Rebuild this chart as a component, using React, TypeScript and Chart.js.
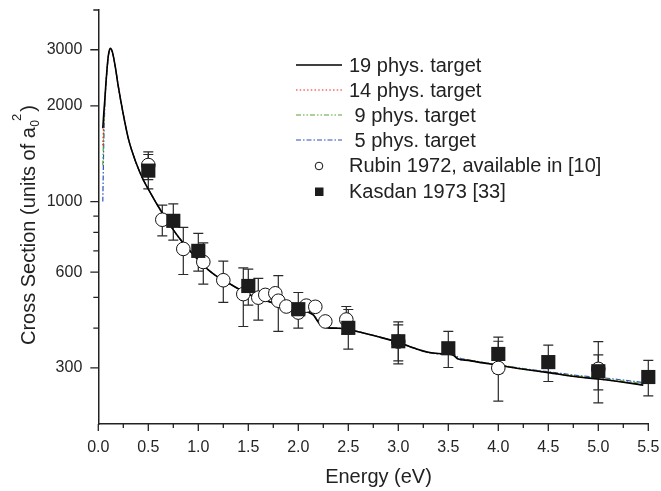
import React, { useEffect, useRef } from 'react';
import { Chart, registerables } from 'chart.js';

Chart.register(...registerables);

// ---------- data ----------
const energies = [
  0.045, 0.055, 0.065, 0.075, 0.085, 0.1, 0.12, 0.14, 0.17, 0.2,
  0.25, 0.3, 0.35, 0.4, 0.45, 0.5, 0.6, 0.7, 0.8, 0.9,
  1.0, 1.1, 1.2, 1.3, 1.4, 1.5, 1.6, 1.7, 1.8, 1.9,
  2.0, 2.1, 2.15, 2.2, 2.25, 2.3, 2.4, 2.5, 2.6, 2.8,
  3.0, 3.2, 3.3, 3.4, 3.5, 3.55, 3.6, 3.7, 3.8, 4.0,
  4.2, 4.5, 4.8, 5.0, 5.2, 5.45,
];
const sigma19 = [
  1700, 1900, 2090, 2330, 2560, 2870, 3030, 2960, 2650, 2300,
  1880, 1580, 1400, 1270, 1170, 1095, 965, 860, 775, 710,
  655, 610, 578, 555, 532, 512, 497, 485, 475, 465,
  456, 449, 440, 418, 405, 401, 400, 396, 390, 376,
  361, 343, 336, 333, 332, 329, 320, 317, 313, 306,
  299, 290, 281, 277, 272, 265,
];
const sigma14 = [
  1500, 1820, 2060, 2310, 2550, 2860, 3020, 2955, 2650, 2300,
  1880, 1580, 1400, 1270, 1170, 1095, 965, 860, 775, 710,
  655, 610, 578, 555, 532, 512, 497, 485, 475, 465,
  456, 449, 441, 419, 405, 401, 400, 396, 390, 376,
  361, 343, 336, 333, 332, 330, 320, 317, 313, 306,
  299, 290, 281, 277, 272, 265,
];
const sigma9 = [
  1300, 1700, 2030, 2300, 2540, 2850, 3015, 2950, 2650, 2300,
  1880, 1580, 1400, 1270, 1170, 1095, 965, 860, 775, 710,
  655, 610, 578, 555, 532, 512, 497, 485, 475, 465,
  456, 449, 442, 420, 406, 401, 400, 396, 390, 376,
  361, 343, 336, 333, 332, 331, 321, 318, 314, 307,
  300, 291, 283, 279, 274, 268,
];
const sigma5 = [
  1000, 1550, 1980, 2280, 2530, 2840, 3010, 2945, 2650, 2300,
  1880, 1580, 1400, 1270, 1170, 1095, 965, 860, 775, 710,
  655, 610, 578, 555, 532, 512, 497, 485, 475, 465,
  456, 449, 442, 421, 406, 401, 400, 396, 390, 376,
  361, 342, 335, 332, 331, 332, 324, 318, 314, 307,
  300, 292, 284, 280, 276, 270,
];

const rubinE = [0.5, 0.64, 0.85, 1.05, 1.25, 1.45, 1.6, 1.67, 1.77, 1.8, 1.88, 2.0, 2.08, 2.17, 2.27, 2.48, 3.0, 4.0, 5.0];
const rubinSigma = [1303, 877, 710, 646, 566, 512, 499, 509, 515, 488, 468, 448, 471, 467, 420, 426, 363, 300, 298];
const rubinErr = [130, 97, 120, 96, 84, 107, 75, 0, 0, 97, 0, 0, 0, 0, 0, 42, 47, 64, 65];

const kasdanE = [0.5, 0.75, 1.0, 1.5, 2.0, 2.5, 3.0, 3.5, 4.0, 4.5, 5.0, 5.5];
const kasdanSigma = [1251, 870, 700, 543, 459, 401, 364, 346, 332, 313, 293, 281];
const kasdanErr = [155, 113, 95, 70, 59, 57, 55, 45, 43, 41, 37, 36];

const xMajorTicks = [0, 0.5, 1, 1.5, 2, 2.5, 3, 3.5, 4, 4.5, 5, 5.5];
const xTickLabels = ['0.0', '0.5', '1.0', '1.5', '2.0', '2.5', '3.0', '3.5', '4.0', '4.5', '5.0', '5.5'];
const xMinorTicks = [0.25, 0.75, 1.25, 1.75, 2.25, 2.75, 3.25, 3.75, 4.25, 4.75, 5.25];
const yMajorTicks = [300, 600, 1000, 2000, 3000];
const yTickLabels = ['300', '600', '1000', '2000', '3000'];
const yMinorTicks = [400, 500, 700, 800, 900, 4000];

const legendLabels = ['19 phys. target', '14 phys. target', ' 9 phys. target', ' 5 phys. target', 'Rubin 1972, available in [10]', 'Kasdan 1973 [33]'];

// ---------- styles ----------
const FONT = "'Liberation Sans', Arial, Helvetica, sans-serif";
const INK = '#222222';
const C19 = '#000000';
const C14 = '#ff1a1a';
const C9 = '#55a532';
const C5 = '#2a4fc0';
const D14 = [1.5, 2.2];
const D9 = [5, 2, 1.5, 2, 1.5, 2];
const D5 = [5, 2, 1.5, 2];

const toXY = (xs: number[], ys: number[]) => xs.map((x, i) => ({ x, y: ys[i] }));

const errorBarsPlugin = {
  id: 'errorBars',
  beforeDatasetsDraw(chart: any) {
    const { ctx, scales } = chart;
    const x = scales.x;
    const y = scales.y;
    const sets: [number[], number[], number[]][] = [
      [rubinE, rubinSigma, rubinErr],
      [kasdanE, kasdanSigma, kasdanErr],
    ];
    ctx.save();
    ctx.strokeStyle = '#2a2a2a';
    ctx.lineWidth = 1.2;
    for (const [es, vs, errs] of sets) {
      es.forEach((e, i) => {
        if (!errs[i]) return;
        const px = x.getPixelForValue(e);
        const top = y.getPixelForValue(vs[i] + errs[i]);
        const bot = y.getPixelForValue(vs[i] - errs[i]);
        ctx.beginPath();
        ctx.moveTo(px, top);
        ctx.lineTo(px, bot);
        ctx.moveTo(px - 5, top);
        ctx.lineTo(px + 5, top);
        ctx.moveTo(px - 5, bot);
        ctx.lineTo(px + 5, bot);
        ctx.stroke();
      });
    }
    ctx.restore();
  },
};

const decorPlugin = {
  id: 'decor',
  afterDraw(chart: any) {
    const { ctx, scales, chartArea } = chart;
    const x = scales.x;
    const y = scales.y;
    ctx.save();
    // tick marks
    ctx.strokeStyle = INK;
    ctx.lineWidth = 1.3;
    ctx.beginPath();
    for (const v of xMajorTicks) {
      const px = x.getPixelForValue(v);
      ctx.moveTo(px, chartArea.bottom);
      ctx.lineTo(px, chartArea.bottom + 7);
    }
    for (const v of xMinorTicks) {
      const px = x.getPixelForValue(v);
      ctx.moveTo(px, chartArea.bottom);
      ctx.lineTo(px, chartArea.bottom + 4);
    }
    for (const v of yMajorTicks) {
      const py = y.getPixelForValue(v);
      ctx.moveTo(chartArea.left, py);
      ctx.lineTo(chartArea.left - 8, py);
    }
    for (const v of yMinorTicks) {
      const py = y.getPixelForValue(v);
      ctx.moveTo(chartArea.left, py);
      ctx.lineTo(chartArea.left - 5, py);
    }
    ctx.stroke();

    // axis titles
    ctx.fillStyle = INK;
    ctx.font = `20px ${FONT}`;
    ctx.textAlign = 'center';
    ctx.textBaseline = 'alphabetic';
    ctx.fillText('Energy (eV)', 378.5, 483);

    ctx.save();
    ctx.translate(35, 345);
    ctx.rotate(-Math.PI / 2);
    ctx.textAlign = 'left';
    const main = 'Cross Section (units of a';
    ctx.font = `20px ${FONT}`;
    ctx.fillText(main, 0, 0);
    const w = ctx.measureText(main).width;
    ctx.font = `12px ${FONT}`;
    ctx.fillText('0', w + 0.5, 4);
    const w0 = ctx.measureText('0').width;
    ctx.font = `13px ${FONT}`;
    ctx.fillText('2', w + w0 - 0.5, -14);
    const w2 = ctx.measureText('2').width;
    ctx.font = `20px ${FONT}`;
    ctx.fillText(')', w + w0 + w2 + 1.5, 0);
    ctx.restore();

    // legend
    const lineRows = [
      { y: 65, color: C19, dash: [] as number[], width: 1.5 },
      { y: 90, color: C14, dash: D14, width: 1.2 },
      { y: 115, color: C9, dash: D9, width: 1.2 },
      { y: 140, color: C5, dash: D5, width: 1.2 },
    ];
    lineRows.forEach((r) => {
      ctx.strokeStyle = r.color;
      ctx.lineWidth = r.width;
      ctx.setLineDash(r.dash);
      ctx.beginPath();
      ctx.moveTo(296, r.y);
      ctx.lineTo(342, r.y);
      ctx.stroke();
    });
    ctx.setLineDash([]);
    // marker samples
    ctx.beginPath();
    ctx.arc(319, 166, 3.8, 0, Math.PI * 2);
    ctx.fillStyle = '#ffffff';
    ctx.fill();
    ctx.strokeStyle = '#111111';
    ctx.lineWidth = 1;
    ctx.stroke();
    ctx.fillStyle = '#1c1c1c';
    ctx.fillRect(315, 187.5, 8.5, 8.5);

    ctx.fillStyle = INK;
    ctx.font = `20px ${FONT}`;
    ctx.textAlign = 'left';
    ctx.textBaseline = 'middle';
    const textRows = [66, 91, 116, 141, 166.5, 192];
    legendLabels.forEach((t, i) => {
      ctx.fillText(t, 349, textRows[i]);
    });
    ctx.restore();
  },
};

export default function App() {
  const ref = useRef<HTMLCanvasElement | null>(null);

  useEffect(() => {
    if (!ref.current) return;
    const lineDs = (label: string, ys: number[], color: string, dash: number[], width: number, order: number) => ({
      type: 'line' as const,
      label,
      data: toXY(energies, ys),
      borderColor: color,
      backgroundColor: color,
      borderWidth: width,
      borderDash: dash,
      pointRadius: 0,
      fill: false,
      cubicInterpolationMode: 'monotone' as const,
      order,
    });
    const chart = new Chart(ref.current, {
      type: 'scatter',
      data: {
        datasets: [
          {
            type: 'scatter',
            label: 'Kasdan 1973 [33]',
            data: toXY(kasdanE, kasdanSigma),
            pointStyle: 'rect',
            pointRadius: 10,
            backgroundColor: '#1c1c1c',
            borderColor: '#1c1c1c',
            borderWidth: 0,
            clip: false,
            order: 0,
          } as any,
          {
            type: 'scatter',
            label: 'Rubin 1972, available in [10]',
            data: toXY(rubinE, rubinSigma),
            pointStyle: 'circle',
            pointRadius: 6.8,
            backgroundColor: '#ffffff',
            borderColor: '#111111',
            borderWidth: 1,
            clip: false,
            order: 1,
          } as any,
          lineDs('19 phys. target', sigma19, C19, [], 1.6, 2),
          lineDs('14 phys. target', sigma14, C14, D14, 1.2, 3),
          lineDs('9 phys. target', sigma9, C9, D9, 1.2, 4),
          lineDs('5 phys. target', sigma5, C5, D5, 1.2, 5),
        ] as any,
      },
      options: {
        animation: false,
        responsive: false,
        devicePixelRatio: 1,
        layout: { padding: { top: 7.3, right: 12.7, left: 0, bottom: 0 } },
        plugins: { legend: { display: false }, tooltip: { enabled: false } },
        scales: {
          x: {
            type: 'linear',
            min: 0,
            max: 5.5,
            afterBuildTicks: (s: any) => {
              s.ticks = xMajorTicks.map((v) => ({ value: v }));
            },
            afterFit: (s: any) => {
              s.height = 67;
              s.paddingLeft = 0;
              s.paddingRight = 0;
            },
            grid: { display: false, drawTicks: true, tickLength: 7 },
            border: { display: true, color: INK, width: 1.5 },
            ticks: {
              autoSkip: false,
              maxRotation: 0,
              padding: 7,
              color: '#262626',
              font: { family: FONT, size: 16 },
              callback: (_v: any, i: number) => xTickLabels[i],
            },
          },
          y: {
            type: 'logarithmic',
            min: 200,
            max: 4000,
            afterBuildTicks: (s: any) => {
              s.ticks = yMajorTicks.map((v) => ({ value: v }));
            },
            afterFit: (s: any) => {
              s.width = 98.3;
              s.paddingTop = 0;
              s.paddingBottom = 0;
            },
            grid: { display: false, drawTicks: true, tickLength: 8 },
            border: { display: true, color: INK, width: 1.5 },
            ticks: {
              autoSkip: false,
              padding: 8,
              color: '#262626',
              font: { family: FONT, size: 16 },
              callback: (_v: any, i: number) => yTickLabels[i],
            },
          },
        },
      } as any,
      plugins: [errorBarsPlugin, decorPlugin],
    });
    return () => chart.destroy();
  }, []);

  return (
    <div style={{ position: 'absolute', left: 0, top: 0, width: 661, height: 491, background: '#fff' }}>
      <canvas ref={ref} width={661} height={491} style={{ display: 'block', width: 661, height: 491 }} />
    </div>
  );
}
